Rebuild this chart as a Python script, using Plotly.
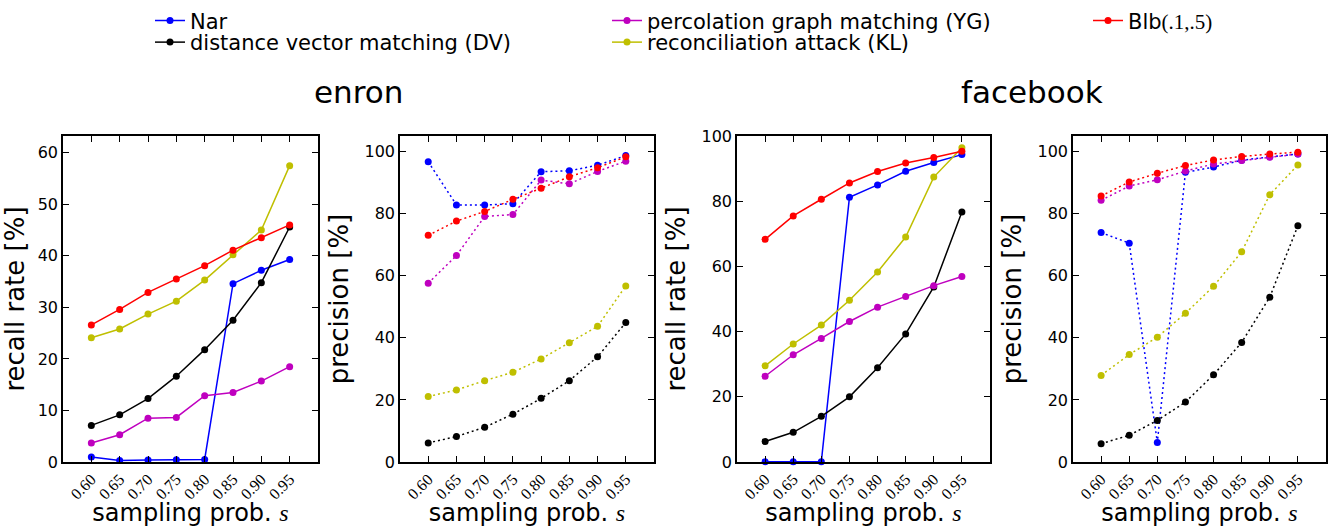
import plotly.graph_objects as go

# ---------------- data ----------------
s_vals = [0.60, 0.65, 0.70, 0.75, 0.80, 0.85, 0.90, 0.95]
s_labels = ["0.60", "0.65", "0.70", "0.75", "0.80", "0.85", "0.90", "0.95"]

series_names = ["Nar", "distance vector matching (DV)", "percolation graph matching (YG)",
                "reconciliation attack (KL)",
                "Blb<span style='font-family:Liberation Serif'>(.1,.5)</span>"]

# enron recall rate [%]
enron_recall_nar = [0.95, 0.3, 0.4, 0.45, 0.5, 34.6, 37.2, 39.3]
enron_recall_dv = [7.1, 9.15, 12.3, 16.65, 21.8, 27.5, 34.8, 45.6]
enron_recall_yg = [3.7, 5.3, 8.5, 8.65, 12.85, 13.5, 15.7, 18.5]
enron_recall_kl = [24.1, 25.8, 28.7, 31.2, 35.3, 40.2, 45.0, 57.5]
enron_recall_blb = [26.6, 29.6, 32.9, 35.5, 38.1, 41.1, 43.5, 46.0]

# enron precision [%]
enron_prec_nar = [96.7, 82.8, 82.8, 83.2, 93.5, 93.8, 95.6, 98.7]
enron_prec_dv = [6.15, 8.2, 11.2, 15.4, 20.5, 26.2, 33.9, 44.9]
enron_prec_yg = [57.6, 66.5, 79.1, 79.7, 90.8, 89.6, 93.6, 96.9]
enron_prec_kl = [21.1, 23.2, 26.2, 28.9, 33.2, 38.4, 43.7, 56.7]
enron_prec_blb = [73.0, 77.6, 80.7, 84.6, 88.2, 91.9, 94.8, 98.3]

# facebook recall rate [%]
fb_recall_nar = [0.1, 0.1, 0.1, 81.2, 85.0, 89.2, 91.9, 94.3]
fb_recall_dv = [6.3, 9.1, 14.0, 20.0, 28.9, 39.3, 53.7, 76.7]
fb_recall_yg = [26.3, 32.9, 37.9, 43.1, 47.5, 50.8, 54.1, 56.9]
fb_recall_kl = [29.5, 36.2, 42.0, 49.6, 58.3, 69.0, 87.4, 96.4]
fb_recall_blb = [68.3, 75.5, 80.6, 85.6, 89.1, 91.7, 93.4, 95.3]

# facebook precision [%]
fb_prec_nar = [73.9, 70.5, 6.3, 93.3, 95.0, 97.2, 98.3, 99.2]
fb_prec_dv = [5.9, 8.6, 13.4, 19.3, 28.1, 38.5, 53.1, 76.1]
fb_prec_yg = [84.3, 88.9, 90.9, 93.7, 96.0, 97.1, 98.2, 99.2]
fb_prec_kl = [27.9, 34.6, 40.2, 47.9, 56.6, 67.7, 86.1, 95.7]
fb_prec_blb = [85.7, 90.2, 93.0, 95.5, 97.3, 98.4, 99.2, 99.8]

colors = ["#0000ff", "#000000", "#bf00bf", "#bfbf00", "#ff0000"]
legend_ids = ["legend", "legend2", "legend3", "legend4", "legend5"]

panels = [
    ([enron_recall_nar, enron_recall_dv, enron_recall_yg, enron_recall_kl, enron_recall_blb], "solid"),
    ([enron_prec_nar, enron_prec_dv, enron_prec_yg, enron_prec_kl, enron_prec_blb], "2px,3px"),
    ([fb_recall_nar, fb_recall_dv, fb_recall_yg, fb_recall_kl, fb_recall_blb], "solid"),
    ([fb_prec_nar, fb_prec_dv, fb_prec_yg, fb_prec_kl, fb_prec_blb], "2px,3px"),
]
y_titles = ["recall rate [%]", "precision [%]", "recall rate [%]", "precision [%]"]
y_ranges = [[0, 63.25], [0, 105], [0, 100], [0, 105]]
y_dticks = [10, 20, 20, 20]

W, H = 1335, 527
x_domains_px = [(63, 318), (400, 654), (737, 990), (1073, 1326)]
y_dom = [1 - 461 / H, 1 - 130 / H]

fig = go.Figure()
for p, (ys_list, dash) in enumerate(panels):
    xa = "x" if p == 0 else f"x{p+1}"
    ya = "y" if p == 0 else f"y{p+1}"
    for i, ys in enumerate(ys_list):
        fig.add_trace(go.Scatter(
            x=s_vals, y=ys, mode="lines+markers",
            line=dict(color=colors[i], width=1.5, dash=dash),
            marker=dict(color=colors[i], size=7),
            name=series_names[i], showlegend=(p == 0),
            legend=legend_ids[i], xaxis=xa, yaxis=ya, cliponaxis=False,
        ))

axis_common = dict(showline=True, linecolor="black", linewidth=1.5, mirror="ticks",
                   ticks="inside", ticklen=6, tickwidth=1, tickcolor="black",
                   showgrid=False, zeroline=False, automargin=False)
layout = {}
for p in range(4):
    xk = "xaxis" if p == 0 else f"xaxis{p+1}"
    yk = "yaxis" if p == 0 else f"yaxis{p+1}"
    x0, x1 = x_domains_px[p]
    layout[xk] = dict(
        axis_common, domain=[x0 / W, x1 / W], range=[0.55, 1.0],
        tickvals=s_vals, ticktext=s_labels, tickangle=-45,
        tickfont=dict(family="Liberation Serif", size=16, color="black"),
        anchor="y" if p == 0 else f"y{p+1}",
        title=dict(text="sampling prob. <span style='font-family:Liberation Serif'><i>s</i></span>",
                   font=dict(family="DejaVu Sans", size=24, color="black"), standoff=4),
    )
    layout[yk] = dict(
        axis_common, domain=y_dom, range=y_ranges[p], dtick=y_dticks[p],
        tickfont=dict(family="DejaVu Sans", size=16, color="black"),
        anchor="x" if p == 0 else f"x{p+1}",
        title=dict(text=y_titles[p], font=dict(family="DejaVu Sans", size=26, color="black"),
                   standoff=8),
    )

leg_common = dict(font=dict(family="DejaVu Sans", size=21, color="black"),
                  bgcolor="rgba(0,0,0,0)", yanchor="middle", xanchor="left",
                  orientation="v", tracegroupgap=0, itemwidth=30)
row1 = 1 - 13 / H
row2 = 1 - 35 / H
fig.update_layout(
    width=W, height=H, margin=dict(l=0, r=0, t=0, b=0),
    paper_bgcolor="white", plot_bgcolor="white",
    font=dict(family="DejaVu Sans", color="black"),
    legend=dict(leg_common, x=150 / W, y=row1),
    legend2=dict(leg_common, x=150 / W, y=row2),
    legend3=dict(leg_common, x=607 / W, y=row1),
    legend4=dict(leg_common, x=607 / W, y=row2),
    legend5=dict(leg_common, x=1088 / W, y=row1),
    **layout,
)

fig.add_annotation(text="enron", x=358 / W, y=1 - 85 / H, xref="paper", yref="paper",
                   xanchor="center", yanchor="middle",
                   showarrow=False, font=dict(family="DejaVu Sans", size=31, color="black"))
fig.add_annotation(text="facebook", x=1032 / W, y=1 - 85 / H, xref="paper", yref="paper",
                   xanchor="center", yanchor="middle",
                   showarrow=False, font=dict(family="DejaVu Sans", size=31, color="black"))

fig.write_html("out.html", config={"displayModeBar": False},
               post_script="document.body.style.margin='0';document.body.style.overflow='hidden';")
